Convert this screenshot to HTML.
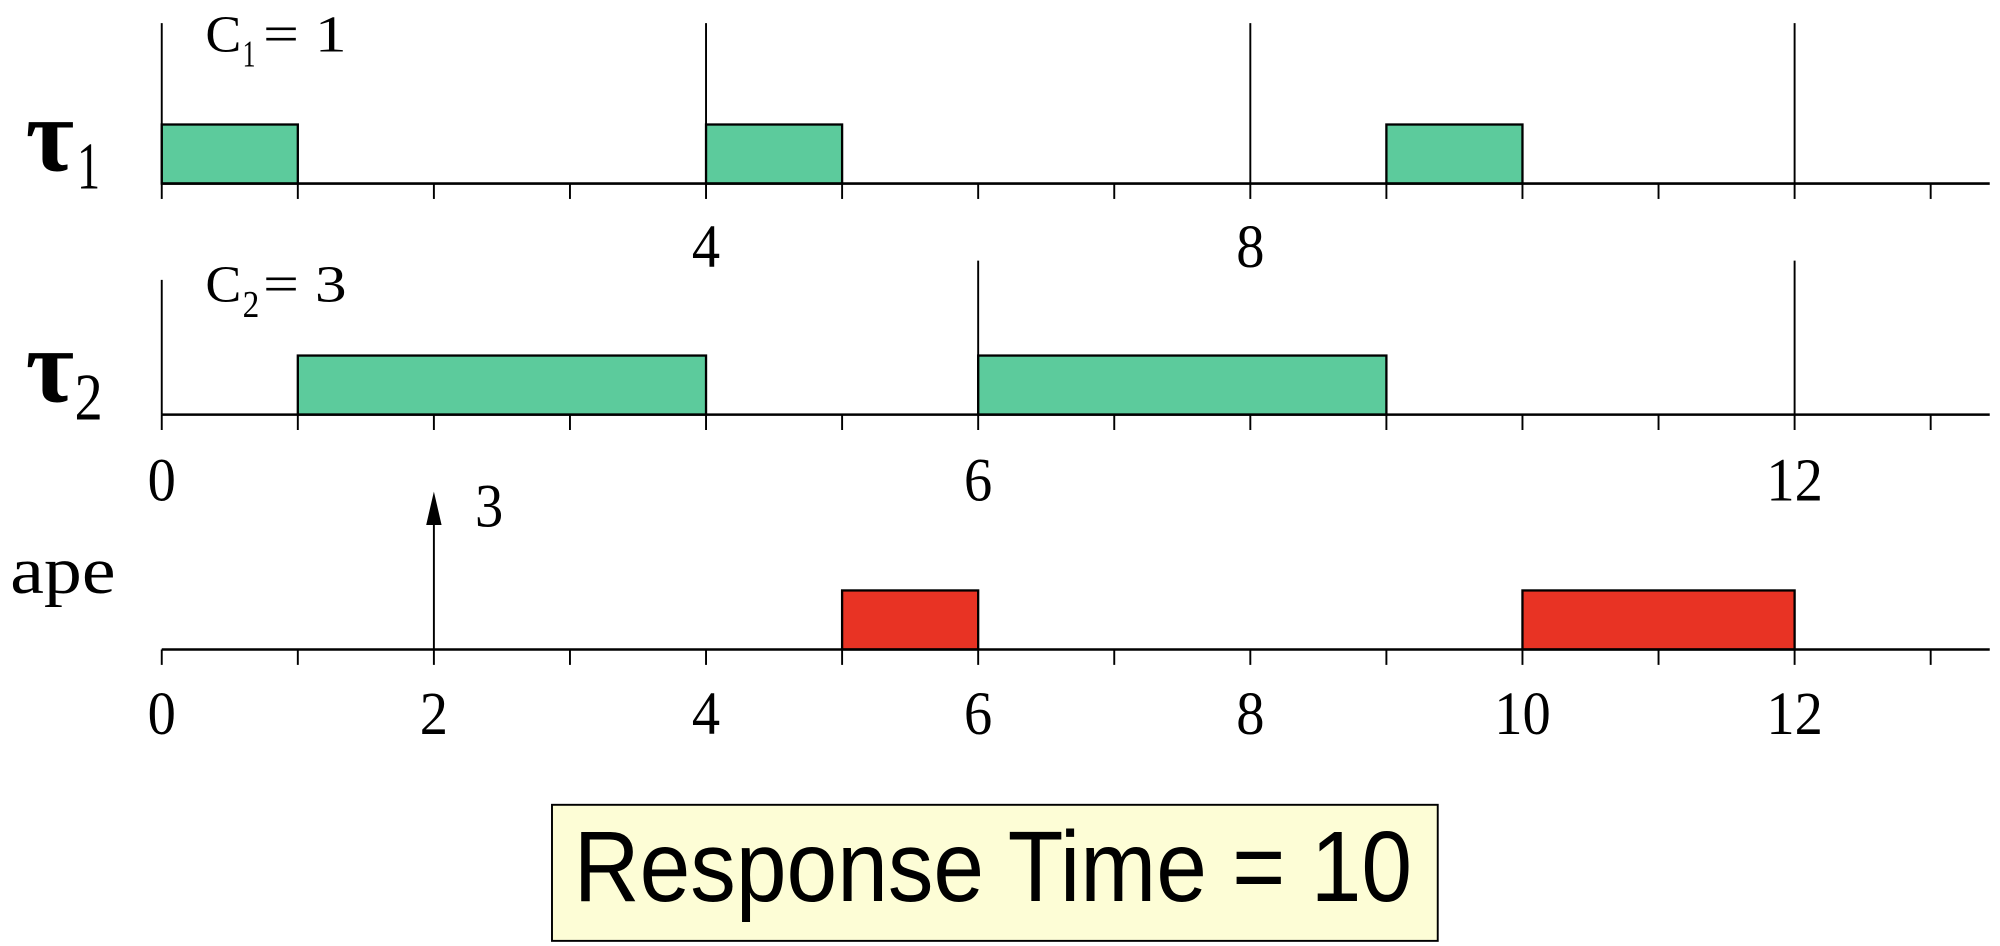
<!DOCTYPE html>
<html><head><meta charset="utf-8"><style>
html,body{margin:0;padding:0;background:#fff;width:2000px;height:946px;overflow:hidden}
svg{display:block}
text{font-family:"Liberation Serif",serif;fill:#000}
</style></head><body>
<svg id="chart" width="2000" height="946" viewBox="0 0 1558 737" preserveAspectRatio="none" xmlns="http://www.w3.org/2000/svg">
<g id="g"></g>
<g><text x="20" y="133" font-size="82" font-weight="bold">τ</text><text x="60" y="147" font-size="52" textLength="18" lengthAdjust="spacingAndGlyphs">1</text></g>
<g><text x="20" y="313" font-size="82" font-weight="bold">τ</text><text x="58" y="327" font-size="52" textLength="22" lengthAdjust="spacingAndGlyphs">2</text></g>
<text x="8" y="462" font-size="52" textLength="82" lengthAdjust="spacingAndGlyphs">ape</text>
<g><text x="160" y="40" font-size="40" textLength="28" lengthAdjust="spacingAndGlyphs">C</text><text x="189" y="52" font-size="30" textLength="10" lengthAdjust="spacingAndGlyphs">1</text><text x="205" y="40" font-size="40" textLength="65" lengthAdjust="spacingAndGlyphs">= 1</text></g>
<g><text x="160" y="235" font-size="40" textLength="28" lengthAdjust="spacingAndGlyphs">C</text><text x="189" y="247" font-size="30" textLength="13" lengthAdjust="spacingAndGlyphs">2</text><text x="205" y="235" font-size="40" textLength="65" lengthAdjust="spacingAndGlyphs">= 3</text></g>
<text x="370" y="410" font-size="48" textLength="22" lengthAdjust="spacingAndGlyphs">3</text>
<rect x="430" y="627" width="690" height="106" fill="#fdfdd6" stroke="#000" stroke-width="1.5"/>
<text x="447" y="702" font-size="78" textLength="653" lengthAdjust="spacingAndGlyphs" style="font-family:'Liberation Sans',sans-serif">Response Time = 10</text>
</svg>
<script>
const tau1Jobs=[[0,1],[4,5],[9,10]];
const tau2Jobs=[[1,4],[6,9]];
const apeJobs=[[5,6],[10,12]];
const tau1Periods=[0,4,8,12];
const tau2Periods=[0,6,12];
const tau1TickLabels=[4,8];
const tau2TickLabels=[0,6,12];
const apeTickLabels=[0,2,4,6,8,10,12];
const apeArrivals=[2];
const maxTick=13;
const x0=126,unit=106;
function X(t){return x0+t*unit;}
const g=document.getElementById('g');
const NS='http://www.w3.org/2000/svg';
function mk(tag,attrs){const e=document.createElementNS(NS,tag);for(const k in attrs)e.setAttribute(k,attrs[k]);g.appendChild(e);return e;}
function row(name,base,jobs,color,periods,pTop,labels,labY){
  jobs.forEach(j=>{
    const r=mk('rect',{x:X(j[0]),y:base-46,width:X(j[1])-X(j[0]),height:46,fill:color,stroke:'#000','stroke-width':1.8});
    
    
  });
  const ax=mk('line',{x1:X(0),y1:base,x2:1550,y2:base,stroke:'#000','stroke-width':2});
  
  
  for(let t=0;t<=maxTick;t++){
    const tk=mk('line',{x1:X(t),y1:base,x2:X(t),y2:base+12,stroke:'#000','stroke-width':1.5});
    
    
  }
  periods.forEach(p=>{
    const top=(p===0&&name==='tau2')?218:pTop;
    const l=mk('line',{x1:X(p),y1:top,x2:X(p),y2:base,stroke:'#000','stroke-width':1.5});
    
    
  });
  labels.forEach(v=>{
    const s=String(v);
    const tx=mk('text',{x:X(v),y:labY,'font-size':48,'text-anchor':'middle',textLength:22*s.length,lengthAdjust:'spacingAndGlyphs'});
    tx.textContent=s;
    
    
  });
}
row('tau1',143,tau1Jobs,'#5ccb9c',tau1Periods,18,tau1TickLabels,208);
row('tau2',323,tau2Jobs,'#5ccb9c',tau2Periods,203,tau2TickLabels,390);
row('ape',506,apeJobs,'#e83324',[],0,apeTickLabels,572);
apeArrivals.forEach(a=>{
  const l=mk('line',{x1:X(a),y1:506,x2:X(a),y2:395,stroke:'#000','stroke-width':1.5});
  
  
  const h=mk('polygon',{points:`${X(a)-6},409 ${X(a)+6},409 ${X(a)},383`,fill:'#000'});
  
  
});
</script>
</body></html>
